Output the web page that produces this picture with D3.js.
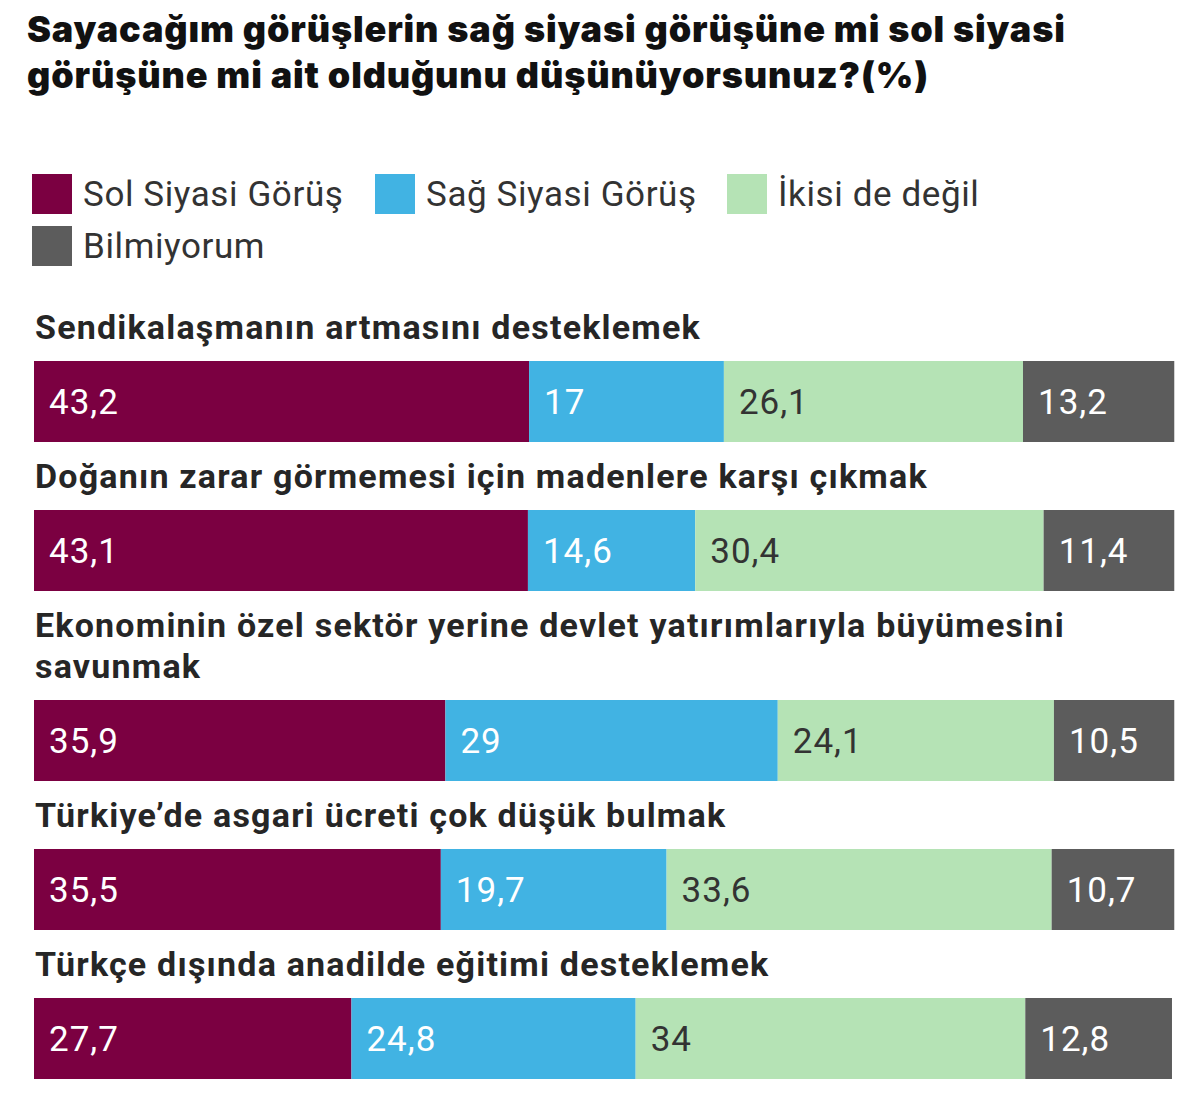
<!DOCTYPE html>
<html><head><meta charset="utf-8">
<script src="https://cdn.jsdelivr.net/npm/d3@7"></script>
<style>
html,body{margin:0;padding:0;background:#fff;}
</style></head>
<body>
<svg id="chart" width="1200" height="1099"></svg>
<script>
const titleLines = ["Sayacağım görüşlerin sağ siyasi görüşüne mi sol siyasi", "görüşüne mi ait olduğunu düşünüyorsunuz?(%)"];
const seriesNames = ["Sol Siyasi Görüş", "Sağ Siyasi Görüş", "İkisi de değil", "Bilmiyorum"];
const seriesColors = ["#7b0041", "#41b3e3", "#b5e3b5", "#5c5c5c"];
const labelColors = ["#ffffff", "#ffffff", "#333333", "#ffffff"];
const categories = [
  ["Sendikalaşmanın artmasını desteklemek"],
  ["Doğanın zarar görmemesi için madenlere karşı çıkmak"],
  ["Ekonominin özel sektör yerine devlet yatırımlarıyla büyümesini", "savunmak"],
  ["Türkiye’de asgari ücreti çok düşük bulmak"],
  ["Türkçe dışında anadilde eğitimi desteklemek"]
];
const solValues = [43.2, 43.1, 35.9, 35.5, 27.7];
const sagValues = [17, 14.6, 29, 19.7, 24.8];
const ikisiValues = [26.1, 30.4, 24.1, 33.6, 34];
const bilmValues = [13.2, 11.4, 10.5, 10.7, 12.8];
const valueLabels = [
  ["43,2","17","26,1","13,2"],
  ["43,1","14,6","30,4","11,4"],
  ["35,9","29","24,1","10,5"],
  ["35,5","19,7","33,6","10,7"],
  ["27,7","24,8","34","12,8"]
];

const svg = d3.select("#chart");
const font = "Roboto, 'Noto Sans', sans-serif";

// Title
svg.append("g").selectAll("text").data(titleLines).join("text")
  .attr("x", 27).attr("y", (d,i) => 42 + i*46)
  .attr("font-family", "Inter, Roboto, sans-serif")
  .attr("font-weight", 900).attr("font-size", 36)
  .attr("letter-spacing", 0.85)
  .attr("fill", "#111").text(d => d);

// Legend
const legendPos = [[32,174],[375,174],[727,174],[32,226]];
const lg = svg.append("g").selectAll("g").data(seriesNames).join("g")
  .attr("transform", (d,i) => `translate(${legendPos[i][0]},${legendPos[i][1]})`);
lg.append("rect").attr("width", 40).attr("height", 40).attr("fill", (d,i) => seriesColors[i]);
lg.append("text").attr("x", 51).attr("y", 20).attr("dy", "0.35em")
  .attr("font-family", font).attr("font-size", 35).attr("letter-spacing", 0.6)
  .attr("fill", "#333").text(d => d);

// Bars
const x = d3.scaleLinear().domain([0, 100]).range([34, 1180]);
const series = [solValues, sagValues, ikisiValues, bilmValues];
const rows = categories.map((c, i) => {
  const vals = series.map(s => s[i]);
  let acc = 0;
  const segs = vals.map((v, k) => { const s = {x0: acc, x1: acc + v, k, label: valueLabels[i][k]}; acc += v; return s; });
  return {lines: c, segs};
});
const lineH = 41, barH = 81, labelToBar = 34, barToLabel = 34;
let yCur = 327;
rows.forEach(r => {
  r.labelY = yCur;
  r.barTop = yCur + (r.lines.length - 1) * lineH + labelToBar;
  yCur = r.barTop + barH + barToLabel;
});

const rg = svg.append("g").selectAll("g").data(rows).join("g");
rg.selectAll("text.cat").data(r => r.lines.map((l, j) => ({l, y: r.labelY + j*lineH}))).join("text")
  .attr("class", "cat").attr("x", 35).attr("y", d => d.y).attr("dy", "0.35em")
  .attr("font-family", font).attr("font-weight", 700).attr("font-size", 34)
  .attr("letter-spacing", 1.2)
  .attr("fill", "#262626").text(d => d.l);
rg.each(function(r) {
  const g = d3.select(this);
  g.selectAll("rect").data(r.segs).join("rect")
    .attr("x", d => x(d.x0)).attr("width", d => x(d.x1) - x(d.x0))
    .attr("y", r.barTop).attr("height", barH)
    .attr("fill", d => seriesColors[d.k]);
  g.selectAll("text.val").data(r.segs).join("text")
    .attr("class", "val").attr("x", d => x(d.x0) + 15).attr("y", r.barTop + barH/2).attr("dy", "0.35em")
    .attr("font-family", font).attr("font-size", 35).attr("letter-spacing", 1)
    .attr("fill", d => labelColors[d.k]).text(d => d.label);
});
</script>
</body></html>
